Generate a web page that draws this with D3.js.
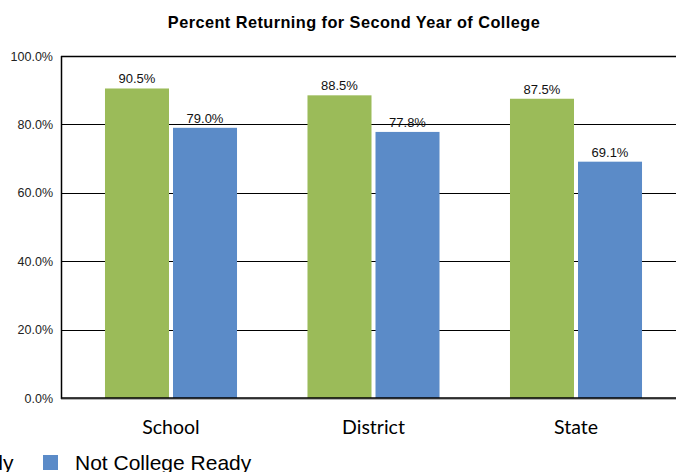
<!DOCTYPE html>
<html>
<head>
<meta charset="utf-8">
<script src="https://cdn.jsdelivr.net/npm/d3@7"></script>
<style>
  html, body { margin: 0; padding: 0; background: #fff; }
  svg { display: block; }
</style>
</head>
<body>
<svg id="chart" width="676" height="472"></svg>
<script>
const title = "Percent Returning for Second Year of College";
const categories = ["School", "District", "State"];
const seriesNames = ["College Ready", "Not College Ready"];
const collegeReady = [90.5, 88.5, 87.5];
const notCollegeReady = [79.0, 77.8, 69.1];
const yTicks = [0, 20, 40, 60, 80, 100];
const colors = ["#9BBB59", "#5B8BC8"];

const svg = d3.select("#chart");
const plot = { left: 61, top: 56, bottom: 398, right: 700 };

const y = d3.scaleLinear().domain([0, 100]).range([plot.bottom, plot.top]);
const x0 = d3.scaleBand().domain(categories).range([69.75, 69.75 + 3 * 202.5]).paddingInner(0).paddingOuter(0);
const x1 = d3.scaleBand().domain(seriesNames).range([0, x0.bandwidth()]).paddingInner(4 / 68).paddingOuter(0.518);

const values = [collegeReady, notCollegeReady];
const data = [];
categories.forEach((c, i) => seriesNames.forEach((s, j) => data.push({ c, s, j, v: values[j][i] })));

// title
svg.append("text").attr("x", 354).attr("y", 28).attr("text-anchor", "middle")
  .attr("font-family", "Liberation Sans, Arial, sans-serif").attr("font-weight", "bold")
  .attr("font-size", 16.3).attr("letter-spacing", 0.45).attr("fill", "#000").text(title);

// gridlines
const yAxis = d3.axisLeft(y).tickValues(yTicks).tickSize(0).tickPadding(8).tickFormat(d => d.toFixed(1) + "%");
svg.append("g").selectAll("line").data(yTicks.filter(d => d > 0)).join("line")
  .attr("x1", plot.left).attr("x2", plot.right)
  .attr("y1", d => Math.round(y(d)) + 0.5).attr("y2", d => Math.round(y(d)) + 0.5)
  .attr("stroke", "#000").attr("stroke-width", d => d === 100 ? 1.5 : 1);

// bars
svg.append("g").selectAll("rect").data(data).join("rect")
  .attr("x", d => x0(d.c) + x1(d.s)).attr("width", x1.bandwidth())
  .attr("y", d => y(d.v)).attr("height", d => y(0) - y(d.v))
  .attr("fill", d => colors[d.j]);

// value labels
svg.append("g").selectAll("text").data(data).join("text")
  .attr("x", d => x0(d.c) + x1(d.s) + x1.bandwidth() / 2)
  .attr("y", d => y(d.v) - 5)
  .attr("text-anchor", "middle").attr("font-family", "Liberation Sans, Arial, sans-serif")
  .attr("font-size", 13).attr("fill", "#111").text(d => d.v.toFixed(1) + "%");

// axes
const gy = svg.append("g").attr("transform", `translate(${plot.left},0)`).call(yAxis);
gy.select(".domain").remove();
gy.selectAll("text").attr("font-family", "Liberation Sans, Arial, sans-serif").attr("font-size", 12.5).attr("fill", "#222");
svg.append("line").attr("x1", plot.left + 0.5).attr("x2", plot.left + 0.5).attr("y1", plot.top).attr("y2", plot.bottom + 1)
  .attr("stroke", "#000").attr("stroke-width", 1.5);
svg.append("line").attr("x1", plot.left).attr("x2", plot.right).attr("y1", plot.bottom + 1).attr("y2", plot.bottom + 1)
  .attr("stroke", "#999").attr("stroke-width", 1.5);
svg.append("line").attr("x1", plot.left).attr("x2", plot.right).attr("y1", plot.bottom).attr("y2", plot.bottom)
  .attr("stroke", "#000").attr("stroke-width", 1.5);

const xAxis = d3.axisBottom(x0).tickSize(0).tickPadding(0);
const gx = svg.append("g").attr("transform", `translate(0,${plot.bottom + 22})`).call(xAxis);
gx.select(".domain").remove();
gx.selectAll("text").attr("font-family", "Lato, 'Open Sans', sans-serif").attr("font-size", 19.5).attr("fill", "#000");

// legend
const legend = svg.append("g").attr("font-family", "Liberation Sans, Arial, sans-serif").attr("font-size", 21);
legend.append("text").attr("x", 13.5).attr("y", 470).attr("text-anchor", "end").attr("fill", "#000").text(seriesNames[0]);
legend.append("rect").attr("x", 43).attr("y", 455).attr("width", 15).attr("height", 15).attr("fill", colors[1]);
legend.append("text").attr("x", 75).attr("y", 470).attr("fill", "#000").text(seriesNames[1]);
</script>
</body>
</html>
